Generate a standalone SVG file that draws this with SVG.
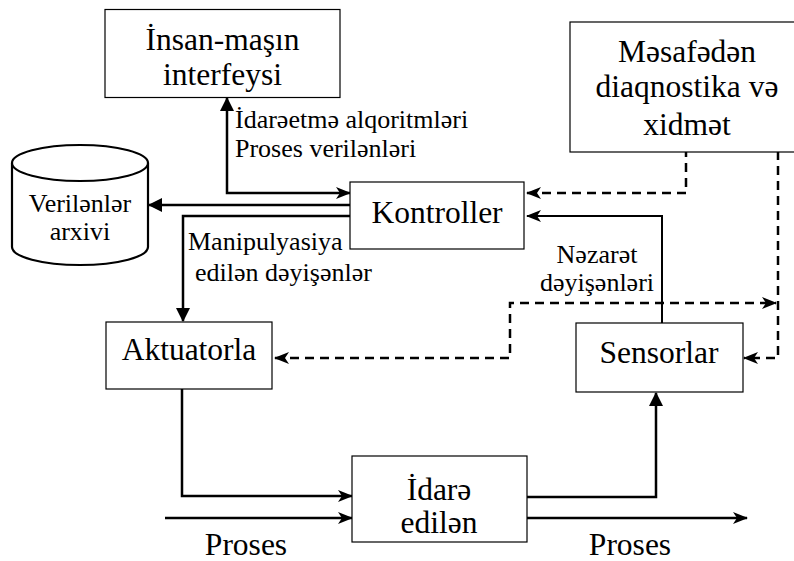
<svg xmlns="http://www.w3.org/2000/svg" width="794" height="561" viewBox="0 0 794 561">
<defs>
<marker id="tri" viewBox="0 0 14 14" refX="13" refY="7" markerWidth="14" markerHeight="14" markerUnits="userSpaceOnUse" orient="auto-start-reverse"><path d="M0,0 L14,7 L0,14 z" fill="#000"/></marker>
<marker id="barb" viewBox="0 0 15 12" refX="14" refY="6" markerWidth="15" markerHeight="12" markerUnits="userSpaceOnUse" orient="auto-start-reverse"><path d="M0,0 L15,6 L0,12 L4,6 z" fill="#000"/></marker>
</defs>
<style>
.box{fill:#fff;stroke:#000;stroke-width:1.2}
.ln{fill:none;stroke:#000;stroke-width:2.5}
.dash{fill:none;stroke:#000;stroke-width:2.5;stroke-dasharray:9 6}
</style>
<g id="connectors">
<path class="ln" d="M350,193 H227 V98" marker-start="url(#barb)" marker-end="url(#tri)"/>
<path class="ln" d="M350,205 H149" marker-end="url(#tri)"/>
<path class="ln" d="M350,216 H183 V321" marker-end="url(#tri)"/>
<path class="dash" d="M527,193 H686 V137" marker-start="url(#barb)" marker-end="url(#barb)"/>
<path class="ln" d="M662,323 V216 H527" style="stroke-width:2" marker-end="url(#barb)"/>
<path class="dash" d="M275,358 H510 V303 H776" marker-start="url(#barb)" marker-end="url(#barb)"/>
<path class="dash" d="M778,136 V358 H744" marker-start="url(#barb)" marker-end="url(#barb)"/>
<path class="ln" d="M182,389 V496 H352" marker-end="url(#barb)"/>
<path class="ln" d="M165,518 H352" marker-end="url(#barb)"/>
<path class="ln" d="M527,497 H656 V393" marker-end="url(#tri)"/>
<path class="ln" d="M527,518 H747" marker-end="url(#barb)"/>
</g>
<g id="insan">
<rect class="box" x="105" y="9.5" width="235" height="88"/>
<text x="222.5" y="50" font-family="Liberation Serif, serif" font-size="31.5" text-anchor="middle">İnsan-maşın</text>
<text x="222.5" y="85" font-family="Liberation Serif, serif" font-size="31.5" text-anchor="middle">interfeysi</text>
</g>
<g id="arxiv">
<path d="M12,163 V247 A68,18 0 0 0 148,247 V163" fill="#fff" stroke="#000" stroke-width="2.2"/>
<ellipse cx="80" cy="163" rx="68" ry="18" fill="#fff" stroke="#000" stroke-width="2.2"/>
<text x="80" y="212" font-family="Liberation Serif, serif" font-size="26" text-anchor="middle">Verilənlər</text>
<text x="80" y="240" font-family="Liberation Serif, serif" font-size="26" text-anchor="middle">arxivi</text>
</g>
<g id="kontroller">
<rect class="box" x="350" y="182" width="174" height="67"/>
<text x="437" y="222.5" font-family="Liberation Serif, serif" font-size="31.5" text-anchor="middle">Kontroller</text>
</g>
<g id="mesafeden">
<rect class="box" x="570" y="22" width="240" height="130"/>
<text x="687" y="62" font-family="Liberation Serif, serif" font-size="31.5" text-anchor="middle">Məsafədən</text>
<text x="687" y="97" font-family="Liberation Serif, serif" font-size="31.5" text-anchor="middle">diaqnostika və</text>
<text x="687" y="135" font-family="Liberation Serif, serif" font-size="31.5" text-anchor="middle">xidmət</text>
</g>
<g id="aktuatorla">
<rect class="box" x="106" y="322" width="166" height="67"/>
<text x="189" y="360" font-family="Liberation Serif, serif" font-size="31.5" text-anchor="middle">Aktuatorla</text>
</g>
<g id="sensorlar">
<rect class="box" x="576" y="323" width="167" height="69"/>
<text x="659" y="363" font-family="Liberation Serif, serif" font-size="31.5" text-anchor="middle">Sensorlar</text>
</g>
<g id="idare">
<rect class="box" x="352" y="456" width="175" height="86"/>
<text x="439" y="500" font-family="Liberation Serif, serif" font-size="31.5" text-anchor="middle">İdarə</text>
<text x="439" y="533" font-family="Liberation Serif, serif" font-size="31.5" text-anchor="middle">edilən</text>
</g>
<g id="labels">
<text x="235" y="128" font-family="Liberation Serif, serif" font-size="26">İdarəetmə alqoritmləri</text>
<text x="235" y="157" font-family="Liberation Serif, serif" font-size="26">Proses verilənləri</text>
<text x="188" y="250" font-family="Liberation Serif, serif" font-size="26">Manipulyasiya</text>
<text x="195" y="281" font-family="Liberation Serif, serif" font-size="26">edilən dəyişənlər</text>
<text x="597" y="263" font-family="Liberation Serif, serif" font-size="26" text-anchor="middle">Nəzarət</text>
<text x="597" y="291" font-family="Liberation Serif, serif" font-size="26" text-anchor="middle">dəyişənləri</text>
<text x="246" y="555" font-family="Liberation Serif, serif" font-size="31.5" text-anchor="middle">Proses</text>
<text x="630" y="555" font-family="Liberation Serif, serif" font-size="31.5" text-anchor="middle">Proses</text>
</g>
</svg>
